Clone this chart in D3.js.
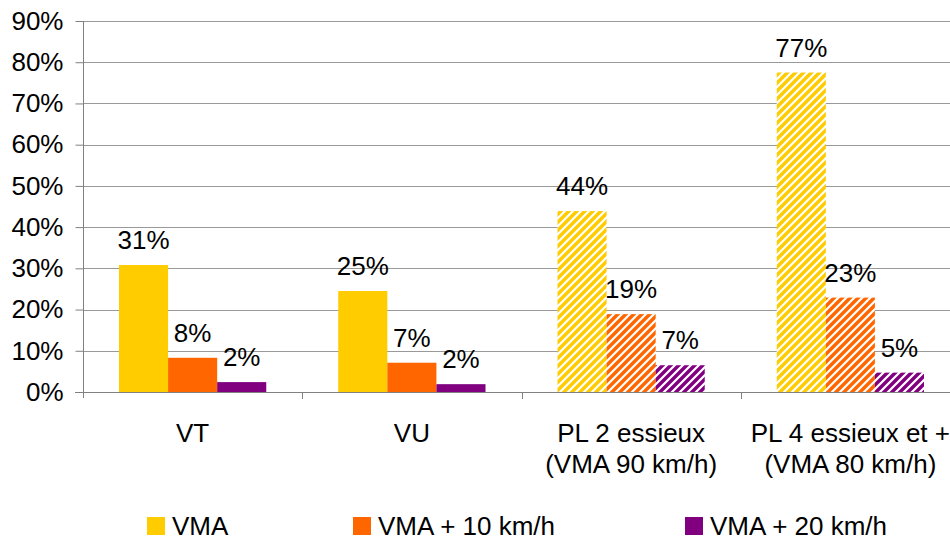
<!DOCTYPE html>
<html>
<head>
<meta charset="utf-8">
<script src="https://cdn.jsdelivr.net/npm/d3@7"></script>
<style>
  body { margin: 0; background: #fff; }
  text { font-family: Arial, "Liberation Sans", sans-serif; }
</style>
</head>
<body>
<div id="vis"></div>
<script>
// data
const categories = ["VT", "VU", "PL 2 essieux", "PL 4 essieux et +"];
const subLabels = ["", "", "(VMA 90 km/h)", "(VMA 80 km/h)"];
const hatched = [false, false, true, true];
const seriesNames = ["VMA", "VMA + 10 km/h", "VMA + 20 km/h"];
const seriesColors = ["#FFCC00", "#FF6600", "#800080"];
const vma = [0.308, 0.245, 0.439, 0.775];
const vma10 = [0.083, 0.071, 0.189, 0.229];
const vma20 = [0.024, 0.019, 0.065, 0.047];
const dataLabels = [
  ["31%", "25%", "44%", "77%"],
  ["8%", "7%", "19%", "23%"],
  ["2%", "2%", "7%", "5%"]
];
const yTicks = [0, 0.1, 0.2, 0.3, 0.4, 0.5, 0.6, 0.7, 0.8, 0.9];

const series = [vma, vma10, vma20];

const width = 950;
const height = 541;
const fontSize = "26px";

const svg = d3.select("#vis").append("svg")
  .attr("width", width).attr("height", height);

// hatch patterns
const defs = svg.append("defs");
seriesColors.forEach((c, i) => {
  const p = defs.append("pattern")
    .attr("id", "hatch" + i)
    .attr("patternUnits", "userSpaceOnUse")
    .attr("width", 8).attr("height", 8);
  p.append("rect").attr("width", 8).attr("height", 8).attr("fill", c);
  p.append("path")
    .attr("d", "M-2,2 l4,-4 M0,8 l8,-8 M6,10 l4,-4")
    .attr("stroke", "#fff").attr("stroke-width", 2.2);
});

const x = d3.scaleBand().domain(categories).range([83, 960]);
const xs = d3.scaleBand().domain(d3.range(3)).range([36, x.bandwidth() - 36]);
const y = d3.scaleLinear().domain([0, 0.9]).range([392, 21]);

// gridlines
svg.append("g").selectAll("line")
  .data(yTicks.slice(1))
  .join("line")
  .attr("x1", 83).attr("x2", width)
  .attr("y1", d => Math.round(y(d)) + 0.5).attr("y2", d => Math.round(y(d)) + 0.5)
  .attr("stroke", "#999").attr("stroke-width", 1);

// bars
series.forEach((vals, si) => {
  svg.append("g").selectAll("rect")
    .data(vals)
    .join("rect")
    .attr("x", (d, i) => x(categories[i]) + xs(si))
    .attr("width", xs.bandwidth())
    .attr("y", d => y(d))
    .attr("height", d => y(0) - y(d))
    .attr("fill", (d, i) => hatched[i] ? "url(#hatch" + si + ")" : seriesColors[si]);

  svg.append("g").selectAll("text")
    .data(vals)
    .join("text")
    .attr("x", (d, i) => x(categories[i]) + xs(si) + xs.bandwidth() / 2)
    .attr("y", d => y(d) - 16)
    .attr("text-anchor", "middle")
    .style("font-size", fontSize)
    .text((d, i) => dataLabels[si][i]);
});

// y axis
const yAxis = svg.append("g")
  .attr("transform", "translate(83.5,0)")
  .call(d3.axisLeft(y).tickValues(yTicks).tickFormat(d3.format(".0%"))
    .tickSize(8).tickPadding(12).tickSizeOuter(0));
yAxis.select(".domain").remove();
yAxis.selectAll(".tick line").attr("stroke", "#808080");
yAxis.selectAll(".tick text").style("font-size", fontSize).attr("fill", "#000")
  .attr("font-family", null);
yAxis.append("line")
  .attr("x1", 0).attr("x2", 0).attr("y1", y(0.9)).attr("y2", 398)
  .attr("stroke", "#808080");

// x axis
svg.append("line")
  .attr("x1", 75).attr("x2", width)
  .attr("y1", 392.5).attr("y2", 392.5)
  .attr("stroke", "#808080");
svg.append("g").selectAll("line")
  .data(categories.slice(1))
  .join("line")
  .attr("x1", d => Math.round(x(d)) + 0.5).attr("x2", d => Math.round(x(d)) + 0.5)
  .attr("y1", 392).attr("y2", 399)
  .attr("stroke", "#808080");

const catText = svg.append("g").selectAll("text")
  .data(categories)
  .join("text")
  .attr("x", d => x(d) + x.bandwidth() / 2)
  .attr("y", 442)
  .attr("text-anchor", "middle")
  .style("font-size", fontSize);
catText.append("tspan").text(d => d);
catText.append("tspan")
  .attr("x", d => x(d) + x.bandwidth() / 2)
  .attr("dy", 31)
  .text((d, i) => subLabels[i]);

// legend (kept a little higher so the text is not cut at the bottom)
const legendX = [147, 353, 685];
const legend = svg.append("g").selectAll("g")
  .data(seriesNames)
  .join("g")
  .attr("transform", (d, i) => "translate(" + legendX[i] + ",517)");
legend.append("rect")
  .attr("width", 18).attr("height", 18)
  .attr("fill", (d, i) => seriesColors[i]);
legend.append("text")
  .attr("x", 25).attr("y", 18)
  .style("font-size", fontSize)
  .text(d => d);
</script>
</body>
</html>
